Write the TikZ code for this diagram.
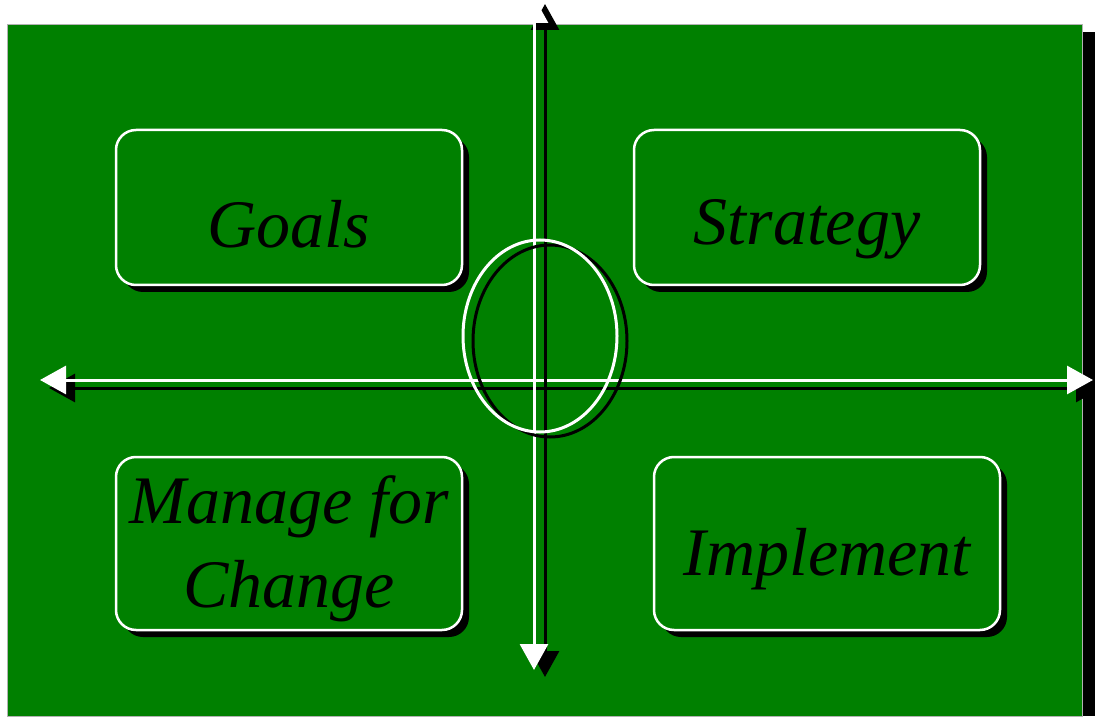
\documentclass[tikz,border=0pt]{standalone}
\usepackage{fontspec}
\setmainfont{Liberation Serif}
\usetikzlibrary{positioning,shapes.geometric,arrows.meta,shadows}
\definecolor{boardgreen}{RGB}{0,128,0}

\begin{document}
\begin{tikzpicture}[x=1pt, y=-1pt,
				every node/.append style={inner sep=0pt, outer sep=0pt},
				box/.style={draw=white, line width=2.5pt, fill=boardgreen, rounded corners=20pt, minimum width=346pt,
					drop shadow={shadow xshift=7pt, shadow yshift=-7pt, fill=black, opacity=1}},
				word/.style={font=\fontsize{68}{84}\selectfont\itshape, text=black, align=center},
				axis/.style={draw=white, line width=3pt, {Triangle[length=26pt,width=28pt]}-{Triangle[length=26pt,width=28pt]}},
				axisshadow/.style={axis, draw=black},
				hoop/.style={ellipse, line width=3pt, minimum width=154pt, minimum height=192pt}]
	\useasboundingbox (0,0) rectangle (1095,719);
	% board
	\fill[black] (20,32) rectangle (1100,716);
	\filldraw[fill=boardgreen, draw=gray!60, line width=1pt] (7,25) rectangle (1082,716);
	% the four boxes
	\node[box, minimum height=155pt] (goals) at (289,207.5) {};
	\node[box, minimum height=155pt] (strategy) at (807,207.5) {};
	\node[box, minimum height=173pt] (manage) at (289,543.5) {};
	\node[box, minimum height=173pt] (implement) at (827,543.5) {};
	\node[word, anchor=base] (goalsText) at ([yshift=-40.5pt]goals.center) {Goals};
	\node[word, anchor=base] (strategyText) at ([yshift=-37.5pt]strategy.center) {Strategy};
	\node[word] (manageText) at ([yshift=-5pt]manage.center) {Manage for\\Change};
	\node[word, anchor=base] (implementText) at ([yshift=-31.5pt]implement.center) {Implement};
	% axes
	\coordinate (west) at (40,380);
	\coordinate (east) at (1093,380);
	\coordinate (north) at (534,-3);
	\coordinate (south) at (534,670);
	\draw[axisshadow] ([shift={(9,8)}]west) -- ([shift={(9,8)}]east);
	\draw[axis] (west) -- (east);
	\draw[axisshadow] ([shift={(11,7)}]north) -- ([shift={(11,7)}]south);
	\draw[axis] (north) -- (south);
	% centre ring
	\node[hoop, draw=black] (hubShadow) at (550,341) {};
	\node[hoop, draw=white] (hub) at (540,336) {};
\end{tikzpicture}
\end{document}
